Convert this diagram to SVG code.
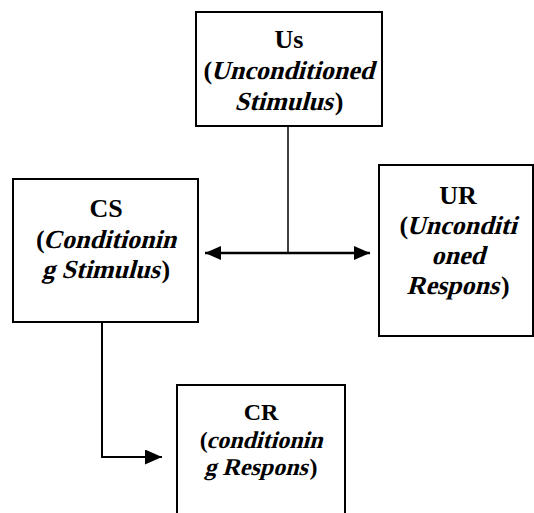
<svg xmlns="http://www.w3.org/2000/svg" width="534" height="513" viewBox="0 0 534 513">
<style>
.box{fill:#fff;stroke:#000;stroke-width:2}
.t{font-family:"Liberation Serif","Times New Roman",serif;font-weight:bold;fill:#000}
.big{font-size:26px}
.sm{font-size:24px}
.m{text-anchor:middle}
.ln{fill:none;stroke:#000}
</style>
<defs>
<marker id="ah" viewBox="0 0 16 14" refX="16" refY="7" markerWidth="16" markerHeight="14" orient="auto-start-reverse" markerUnits="userSpaceOnUse">
<path d="M0,0 L16,7 L0,14 Z" fill="#000"/>
</marker>
<marker id="ah2" viewBox="0 0 17 15" refX="17" refY="7.5" markerWidth="17" markerHeight="15" orient="auto" markerUnits="userSpaceOnUse">
<path d="M0,0 L17,7.5 L0,15 Z" fill="#000"/>
</marker>
</defs>
<g id="connectors">
<line class="ln" x1="288" y1="126" x2="288" y2="253" stroke-width="1.5"/>
<line class="ln" x1="205" y1="253" x2="370" y2="253" stroke-width="2.5" marker-start="url(#ah)" marker-end="url(#ah)"/>
<polyline class="ln" points="102,322 102,457 162,457" stroke-width="2" marker-end="url(#ah2)"/>
</g>
<g id="us">
<rect class="box" x="196" y="12" width="186" height="114"/>
<text class="t big m" x="289" y="48">Us</text>
<text class="t big" x="203.5" y="79">(</text>
<text class="t big" transform="translate(210.7,79) skewX(-15)">Unconditioned</text>
<text class="t big" transform="translate(234.5,110) skewX(-15)">Stimulus</text>
<text class="t big" x="334.8" y="110">)</text>
</g>
<g id="cs">
<rect class="box" x="13" y="179" width="185" height="143"/>
<text class="t big m" x="106" y="217">CS</text>
<text class="t big" x="36" y="248">(</text>
<text class="t big" transform="translate(43,248) skewX(-15)">Conditionin</text>
<text class="t big" transform="translate(41.8,278) skewX(-15)">g Stimulus</text>
<text class="t big" x="161.5" y="278">)</text>
</g>
<g id="ur">
<rect class="box" x="379" y="165" width="154" height="171"/>
<text class="t big m" x="458" y="204">UR</text>
<text class="t big" x="399.5" y="234">(</text>
<text class="t big" transform="translate(406.6,234) skewX(-15)">Unconditi</text>
<text class="t big m" transform="translate(458,264) skewX(-15)">oned</text>
<text class="t big" transform="translate(406.4,294) skewX(-15)">Respons</text>
<text class="t big" x="500.9" y="294">)</text>
</g>
<g id="cr">
<rect class="box" x="177" y="385" width="168" height="140"/>
<text class="t sm m" x="261" y="420">CR</text>
<text class="t sm" x="199.7" y="448">(</text>
<text class="t sm" transform="translate(206.3,448) skewX(-15)">conditionin</text>
<text class="t sm" transform="translate(204.3,475) skewX(-15)">g Respons</text>
<text class="t sm" x="309.6" y="475">)</text>
</g>
</svg>
